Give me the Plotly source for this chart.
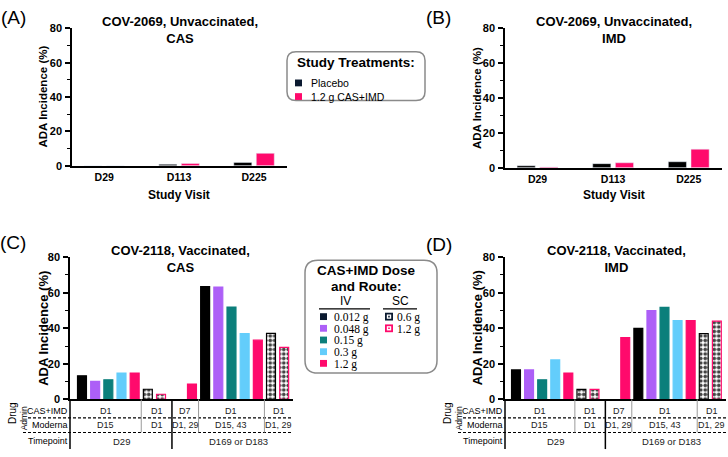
import plotly.graph_objects as go

W, H = 728, 457

# ---------------- data ----------------
visits = ["D29", "D113", "D225"]
a_placebo = [0.0, 0.8, 1.9]
a_cas = [0.0, 1.3, 7.2]
b_placebo = [1.1, 2.3, 3.4]
b_imd = [0.4, 2.8, 10.6]

bar_dose = ["0.012 g", "0.048 g", "0.15 g", "0.3 g", "1.2 g", "0.6 g", "1.2 g",
            "1.2 g", "0.012 g", "0.048 g", "0.15 g", "0.3 g", "1.2 g", "0.6 g", "1.2 g"]
bar_route = ["IV"] * 5 + ["SC"] * 2 + ["IV"] * 6 + ["SC"] * 2
c_values = [13.3, 10.1, 11.0, 14.8, 14.8, 5.7, 2.9,
            8.6, 63.5, 63.2, 52.0, 37.0, 33.3, 37.2, 29.3]
d_values = [16.6, 16.6, 11.0, 22.2, 14.8, 5.6, 5.6,
            34.8, 40.0, 50.0, 51.8, 44.4, 44.4, 37.0, 44.0]

iv_doses = ["0.012 g", "0.048 g", "0.15 g", "0.3 g", "1.2 g"]
sc_doses = ["0.6 g", "1.2 g"]

cas_imd_admin = ["D1", "D1", "D7", "D1", "D1"]
moderna_admin = ["D15", "D1", "D1, 29", "D15, 43", "D1, 29"]
admin_spans = [(0, 4), (5, 6), (7, 7), (8, 12), (13, 14)]
timepoints = ["D29", "D169 or D183"]
timepoint_spans = [(0, 6), (7, 14)]

# ---------------- styles ----------------
FONT = "Liberation Sans, Arial, sans-serif"
SERIF = "Liberation Serif, Times New Roman, serif"
iv_colors = {"0.012 g": "#000000", "0.048 g": "#ad5ff7", "0.15 g": "#0b7f7b",
             "0.3 g": "#63cdfb", "1.2 g": "#ff0a6c"}
sc_colors = {"0.6 g": "#000000", "1.2 g": "#ff0a6c"}
SWATCH_DARK = "#0b1a30"
PLACEBO = "#000000"
PINK = "#ff0a6c"

split = timepoint_spans[1][0]
GAP = 1.35
pos = [i + (GAP if i >= split else 0) for i in range(len(c_values))]
sep = pos[split - 1] + 0.83
BW = 0.68


def X(px):
    return px / W


def Y(py):
    return 1 - py / H


fig = go.Figure()

# top panels
fig.add_trace(go.Bar(x=visits, y=a_placebo, marker_color=PLACEBO, xaxis="x", yaxis="y",
                     showlegend=False))
fig.add_trace(go.Bar(x=visits, y=a_cas, marker_color=PINK, xaxis="x", yaxis="y",
                     showlegend=False))
fig.add_trace(go.Bar(x=visits, y=b_placebo, marker_color=PLACEBO, xaxis="x2", yaxis="y2",
                     showlegend=False))
fig.add_trace(go.Bar(x=visits, y=b_imd, marker_color=PINK, xaxis="x2", yaxis="y2",
                     showlegend=False))


def dose_bars(values, xa, ya):
    cols = [(iv_colors if r == "IV" else sc_colors)[d] for d, r in zip(bar_dose, bar_route)]
    fill = [c if r == "IV" else "white" for c, r in zip(cols, bar_route)]
    shp = ["" if r == "IV" else "." for r in bar_route]
    return go.Bar(
        x=pos, y=values, width=BW, xaxis=xa, yaxis=ya, showlegend=False,
        marker=dict(color=fill, line=dict(color=cols, width=1.2),
                    pattern=dict(shape=shp, fgcolor=cols, bgcolor="white", fgopacity=1,
                                 fillmode="overlay", size=4.5, solidity=0.55)),
    )


fig.add_trace(dose_bars(c_values, "x3", "y3"))
fig.add_trace(dose_bars(d_values, "x4", "y4"))

yax = dict(range=[0, 80], tickvals=[0, 20, 40, 60, 80], ticks="outside", ticklen=5,
           tickwidth=1.5, tickcolor="black", showline=True, linecolor="black", linewidth=1.5,
           showgrid=False, zeroline=False, ticklabelstandoff=1,
           tickfont=dict(family=FONT, size=11, color="black", weight="bold"),
           minor=dict(dtick=10, ticks="outside", ticklen=3, tickcolor="black", tickwidth=1.2))
xcat = dict(type="category", range=[-0.43, 2.44], showline=True, linecolor="black",
            linewidth=1.8, showgrid=False, zeroline=False, ticks="",
            ticklabelstandoff=1,
            tickfont=dict(family=FONT, size=10.5, color="black", weight="bold"))
xnum = dict(showline=True, linecolor="black", linewidth=1.5, showgrid=False,
            zeroline=False, ticks="", showticklabels=False)

dom = {
    "A": ([X(72), X(287)], [Y(164), Y(23)]),
    "B": ([X(505), X(722)], [Y(166), Y(23)]),
    "C": ([X(70), X(293)], [Y(404), Y(258)]),
    "D": ([X(505), X(726)], [Y(404), Y(258)]),
}

fig.update_layout(
    width=W, height=H, margin=dict(l=0, r=0, t=0, b=0),
    paper_bgcolor="white", plot_bgcolor="white",
    barmode="group", bargap=0.4, bargroupgap=0.2,
    xaxis=dict(xcat, domain=dom["A"][0], anchor="y"),
    yaxis=dict(yax, domain=dom["A"][1], anchor="x"),
    xaxis2=dict(xcat, domain=dom["B"][0], anchor="y2"),
    yaxis2=dict(yax, domain=dom["B"][1], anchor="x2"),
    xaxis3=dict(xnum, domain=dom["C"][0], anchor="y3", range=[-0.91, 16.02]),
    yaxis3=dict(yax, domain=dom["C"][1], anchor="x3"),
    xaxis4=dict(xnum, domain=dom["D"][0], anchor="y4", range=[-0.84, 16.05]),
    yaxis4=dict(yax, domain=dom["D"][1], anchor="x4"),
)

ann = []
shapes = []


def text(x, y, t, size, bold=False, xref="paper", angle=0, xanchor="center",
         family=FONT, color="black"):
    ann.append(dict(x=x if xref != "paper" else X(x), y=Y(y), xref=xref, yref="paper",
                    text=t, showarrow=False, xanchor=xanchor, yanchor="middle",
                    textangle=angle, borderpad=0,
                    font=dict(family=family, size=size, color=color,
                              weight="bold" if bold else "normal")))


# panel letters
text(13, 12, "(A)", 19)
text(438, 12, "(B)", 19)
text(13, 243, "(C)", 19)
text(439, 245, "(D)", 19)

# panel titles
text(179.5, 25, "COV-2069, Unvaccinated,<br>CAS", 13, True)
text(614, 25, "COV-2069, Unvaccinated,<br>IMD", 13, True)
text(180, 259.5, "COV-2118, Vaccinated,<br>CAS", 13, True)
text(616, 259.5, "COV-2118, Vaccinated,<br>IMD", 13, True)

# axis titles
text(43.5, 93.5, "ADA Incidence (%)", 11.5, True, angle=-90)
text(477, 94.5, "ADA Incidence (%)", 11.5, True, angle=-90)
text(43.5, 331, "ADA Incidence (%)", 13, True, angle=-90)
text(477, 331, "ADA Incidence (%)", 13, True, angle=-90)
text(179, 194, "Study Visit", 12, True)
text(613.5, 194, "Study Visit", 12, True)


def rrect(x0, y0, x1, y1, r):
    return (f"M {X(x0 + r)},{Y(y0)} L {X(x1 - r)},{Y(y0)} Q {X(x1)},{Y(y0)} {X(x1)},{Y(y0 + r)} "
            f"L {X(x1)},{Y(y1 - r)} Q {X(x1)},{Y(y1)} {X(x1 - r)},{Y(y1)} "
            f"L {X(x0 + r)},{Y(y1)} Q {X(x0)},{Y(y1)} {X(x0)},{Y(y1 - r)} "
            f"L {X(x0)},{Y(y0 + r)} Q {X(x0)},{Y(y0)} {X(x0 + r)},{Y(y0)} Z")


def rect(x0, y0, x1, y1, color):
    shapes.append(dict(type="rect", xref="paper", yref="paper", x0=X(x0), x1=X(x1),
                       y0=Y(y1), y1=Y(y0), fillcolor=color, line=dict(width=0)))


def hline(x0, x1, y, color="black", width=1.2, dash="solid"):
    shapes.append(dict(type="line", xref="paper", yref="paper", x0=X(x0), x1=X(x1),
                       y0=Y(y), y1=Y(y), line=dict(color=color, width=width, dash=dash)))


# legend A
shapes.append(dict(type="path", path=rrect(287, 47, 425, 97, 9), xref="paper", yref="paper",
                   line=dict(color="#8a8a8a", width=1.5), fillcolor="rgba(0,0,0,0)"))
text(356, 58, "Study Treatments:", 13.5, True)
for k, (lab, col) in enumerate([("Placebo", SWATCH_DARK), ("1.2 g CAS+IMD", PINK)]):
    yy = 79 + k * 14
    rect(295, yy - 3.5, 302, yy + 3.5, col)
    text(310, yy, lab, 10.5, xanchor="left")

# legend C/D
shapes.append(dict(type="path", path=rrect(305, 261, 437, 377, 13), xref="paper", yref="paper",
                   line=dict(color="#8a8a8a", width=1.5), fillcolor="rgba(0,0,0,0)"))
text(366, 272, "CAS+IMD Dose", 13.5, True)
text(366, 288, "and Route:", 13.5, True)
text(345, 303, "IV", 12)
text(400, 303, "SC", 12)
hline(319, 370, 311, width=1.3)
hline(383, 417, 311, width=1.3)
for k, d in enumerate(iv_doses):
    yy = 319 + k * 12
    col = SWATCH_DARK if iv_colors[d] == "#000000" else iv_colors[d]
    rect(320, yy - 3.5, 327, yy + 3.5, col)
    text(333, yy + 1, d, 11.5, family=SERIF, xanchor="left")
for k, d in enumerate(sc_doses):
    yy = 319 + k * 12
    col = SWATCH_DARK if sc_colors[d] == "#000000" else sc_colors[d]
    rect(385, yy - 4, 393, yy + 4, col)
    rect(386.8, yy - 2.2, 391.2, yy + 2.2, "white")
    rect(388.2, yy - 0.8, 389.8, yy + 0.8, col)
    text(396, yy + 1, d, 11.5, family=SERIF, xanchor="left")


# tables under C and D
def bound_left(s):
    if s == 0:
        return None
    if s == split:
        return sep
    return (pos[s - 1] + pos[s]) / 2


def bound_right(e, rng):
    if e == len(pos) - 1:
        return rng[1]
    if e + 1 == split:
        return sep
    return (pos[e] + pos[e + 1]) / 2


for xa, rng, ax_px, end_px, off in [("x3", [-0.91, 16.02], 70, 293, 0),
                                    ("x4", [-0.84, 16.05], 505, 726, 435)]:
    # row labels
    text(ax_px - 1.5, 416, "CAS+IMD", 9, xanchor="right")
    text(ax_px - 1.5, 430.5, "Moderna", 9, xanchor="right")
    text(ax_px - 1.5, 447, "Timepoint", 9, xanchor="right")
    text(12 + off, 418, "Drug", 10, angle=-90)
    text(23.5 + off, 424, "Admin", 8.5, angle=-90)
    # lines
    hline(28 + off, end_px, 423, dash="3px,2px")
    hline(23 + off, end_px, 438, dash="3px,2px")
    shapes.append(dict(type="line", xref="paper", yref="paper", x0=X(ax_px), x1=X(ax_px),
                       y0=Y(404), y1=Y(455), line=dict(color="black", width=1.5)))
    shapes.append(dict(type="line", xref=xa, yref="paper", x0=sep, x1=sep,
                       y0=Y(404), y1=Y(455), line=dict(color="black", width=1.5)))
    for (s, e) in admin_spans[1:]:
        b = bound_left(s)
        if b != sep:
            shapes.append(dict(type="line", xref=xa, yref="paper", x0=b, x1=b,
                               y0=Y(404), y1=Y(438), line=dict(color="#9a9a9a", width=1)))
    for k, (s, e) in enumerate(admin_spans):
        lb = bound_left(s)
        lb = rng[0] if lb is None else lb
        rb = bound_right(e, rng)
        cx = (lb + rb) / 2
        text(cx, 416, cas_imd_admin[k], 9, xref=xa, color="#222222")
        text(cx, 430.5, moderna_admin[k], 9, xref=xa, color="#222222")
    for k, (s, e) in enumerate(timepoint_spans):
        cx = (pos[s] + pos[e]) / 2
        text(cx, 447, timepoints[k], 9.5, xref=xa, color="#222222")

fig.update_layout(annotations=ann, shapes=shapes)
fig.write_html("out.html")
